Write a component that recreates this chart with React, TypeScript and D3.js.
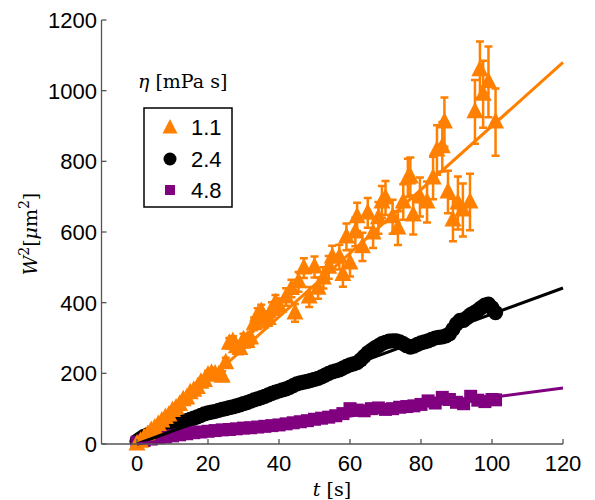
import React from 'react';
import * as d3 from 'd3';

// orange, eta = 1.1 mPa s (with error bars)
const orangeT = [0, 1, 2, 3, 4, 5, 6, 7, 8, 9, 10, 11, 12, 13, 14, 15, 16, 17, 18, 19, 20, 21, 22, 23, 24, 25, 26, 27, 28, 29, 30, 31, 32, 33, 34, 35, 36, 37, 38, 39, 40,
  42, 43.5, 44.5, 45.5, 47, 48.5, 50, 51, 52.5, 54, 55, 57, 58, 59, 60, 61.5, 62, 63.5, 65, 66.5, 68, 69, 70, 72, 73.5, 75, 76.3, 77, 77.8, 79.7,
  81.7, 83.4, 84.5, 86, 86.6, 87.6, 89, 90.4, 91.8, 93.8, 95.2, 96.6, 97.5, 99, 101];
const orangeW = [0, 8, 18, 27, 38, 45, 55, 65, 75, 82, 95, 102, 112, 125, 130, 145, 152, 160, 175, 180, 195, 200, 198, 195, 192, 230, 285, 290, 275, 270, 295, 290, 300, 340, 365, 375, 350, 355, 380, 400, 390,
  416, 440, 371, 459, 498, 416, 501, 441, 470, 500, 529, 529, 480, 586, 512, 600, 643, 558, 654, 597, 640, 685, 696, 643, 611, 685, 753, 756, 648, 699,
  685, 753, 832, 841, 911, 713, 634, 682, 662, 685, 940, 1059, 990, 1025, 911];
const orangeErr = [2, 3, 3, 4, 4, 5, 5, 5, 6, 6, 6, 7, 7, 8, 8, 8, 9, 9, 10, 10, 12, 12, 13, 13, 14, 14, 15, 15, 16, 16, 17, 17, 18, 18, 19, 19, 20, 20, 21, 22, 22,
  25, 25, 25, 28, 28, 28, 30, 30, 30, 32, 32, 35, 35, 38, 38, 40, 40, 40, 42, 42, 45, 45, 48, 48, 48, 50, 54, 55, 55, 55,
  58, 60, 70, 70, 70, 60, 60, 75, 75, 80, 90, 80, 95, 100, 95];

// black, eta = 2.4 mPa s
const blackT = d3.range(0, 102);
const blackW = [8, 15, 22, 26, 30, 34, 38, 42, 46, 50, 54, 57, 60, 63, 66, 70, 73, 77, 81, 85, 88, 90, 92, 95, 98, 100, 103, 105, 108, 111,
  114, 117, 121, 125, 128, 131, 135, 139, 143, 147, 150, 153, 156, 160, 165, 170, 173, 175, 177, 180, 183, 186, 190, 195, 200, 204, 207, 210, 215, 220,
  224, 227, 230, 238, 248, 258, 265, 272, 278, 284, 288, 291, 292, 292, 289, 284, 278, 274, 277, 282, 286, 289, 292, 296, 300, 302, 303, 306, 312, 325,
  340, 350, 350, 358, 366, 372, 378, 386, 393, 396, 385, 372];

// purple, eta = 4.8 mPa s
const purpleT = [0, 2, 4, 6, 8, 10, 12, 14, 16, 18, 20, 22, 24, 26, 28, 30, 32, 34, 36, 38, 40, 42, 44, 46, 48, 50,
  52, 54, 56, 58, 60, 62, 64, 66, 68, 70, 72, 74, 76, 78, 80, 82, 84, 86, 88, 90, 92, 94, 96, 98, 100, 101];
const purpleW = [5, 10, 14, 18, 20, 23, 26, 29, 32, 34, 36, 38, 40, 41, 43, 45, 46, 48, 50, 52, 54, 57, 60, 63, 66, 70,
  73, 76, 80, 86, 100, 96, 94, 100, 102, 98, 100, 104, 106, 108, 112, 122, 116, 132, 126, 118, 114, 135, 124, 120, 126, 125];

// linear fits W^2 = k t
const fitSlopes = [9.0, 3.68, 1.32];
const fitColors = ['#FF8000', '#000000', '#800080'];
const legendLabels = ['1.1', '2.4', '4.8'];
const xTicks = [0, 20, 40, 60, 80, 100, 120];
const yTicks = [0, 200, 400, 600, 800, 1000, 1200];

const ORANGE = '#FF8000';
const PURPLE = '#800080';
const tri = 'M0,-10L8.5,6.5L-8.5,6.5Z';
const legendTri = 'M0,-9L7.5,5.5L-7.5,5.5Z';

export default function App() {
  const x = d3.scaleLinear().domain([-10, 120]).range([101.5, 563]);
  const y = d3.scaleLinear().domain([0, 1200]).range([444, 20]);
  const line = d3.line<number>().x(d => x(d[0])).y(d => y(d[1]));
  const sans = 'Liberation Sans, Arial, sans-serif';
  const serif = 'DejaVu Serif, Liberation Serif, serif';
  const axisColor = '#555';

  return (
    <svg width={595} height={500} style={{ position: 'absolute', left: 0, top: 0, background: '#fff' }}>
      {/* black circles */}
      <g fill="#000">
        {blackT.map((t, i) => <circle key={i} cx={x(t)} cy={y(blackW[i])} r={7.6} />)}
      </g>
      {/* purple squares */}
      <g fill={PURPLE}>
        {purpleT.map((t, i) => <rect key={i} x={x(t) - 6.5} y={y(purpleW[i]) - 6.5} width={13} height={13} />)}
      </g>
      {/* orange triangles with error bars */}
      <g stroke={ORANGE} strokeWidth={2.5} fill="none">
        {orangeT.map((t, i) => {
          const cx = x(t), y1 = y(orangeW[i] + orangeErr[i]), y0 = y(orangeW[i] - orangeErr[i]);
          return (
            <path key={i} d={`M${cx},${y0}L${cx},${y1}M${cx - 4},${y1}L${cx + 4},${y1}M${cx - 4},${y0}L${cx + 4},${y0}`} />
          );
        })}
      </g>
      <g fill={ORANGE}>
        {orangeT.map((t, i) => <path key={i} d={tri} transform={`translate(${x(t)},${y(orangeW[i])})`} />)}
      </g>
      {/* fit lines */}
      {fitSlopes.map((k, i) => (
        <path key={i} d={line([[0, 0], [120, 120 * k]]) || ''} stroke={fitColors[i]} strokeWidth={3} fill="none" />
      ))}

      {/* axes */}
      <g stroke={axisColor} strokeWidth={1.3}>
        <line x1={x(-10)} x2={x(120)} y1={y(0)} y2={y(0)} />
        <line x1={x(-10)} x2={x(-10)} y1={y(0)} y2={y(1200)} />
        {xTicks.map(t => <line key={t} x1={x(t)} x2={x(t)} y1={y(0)} y2={y(0) - 5} />)}
        {yTicks.map(v => <line key={v} x1={x(-10)} x2={x(-10) + 5} y1={y(v)} y2={y(v)} />)}
      </g>
      <g fontFamily={sans} fontSize={22} fill="#000">
        {xTicks.map(t => <text key={t} x={x(t)} y={471} textAnchor="middle">{t}</text>)}
        {yTicks.map(v => <text key={v} x={97} y={y(v) + 8} textAnchor="end">{v}</text>)}
      </g>

      {/* axis labels */}
      <text x={332} y={496} textAnchor="middle" fontFamily={serif} fontSize={19}>
        <tspan fontStyle="italic">t</tspan> [s]
      </text>
      <text transform="translate(37,234) rotate(-90)" textAnchor="middle" fontFamily={serif} fontSize={19}>
        <tspan fontStyle="italic">W</tspan><tspan fontSize={14} dy={-8}>2</tspan><tspan dy={8}>[</tspan><tspan fontStyle="italic">μ</tspan>m<tspan fontSize={14} dy={-8}>2</tspan><tspan dy={8}>]</tspan>
      </text>

      {/* legend */}
      <text x={138} y={88} fontFamily={serif} fontSize={19}>
        <tspan fontStyle="italic">η</tspan> [mPa s]
      </text>
      <rect x={144} y={108} width={88} height={99} fill="#fff" stroke="#000" strokeWidth={1.5} />
      <path d={legendTri} transform="translate(170,128)" fill={ORANGE} />
      <circle cx={170} cy={159} r={6.5} fill="#000" />
      <rect x={165} y={185} width={10} height={10} fill={PURPLE} />
      <g fontFamily={sans} fontSize={22}>
        {legendLabels.map((s, i) => <text key={s} x={191} y={135 + i * 31.5}>{s}</text>)}
      </g>
    </svg>
  );
}
